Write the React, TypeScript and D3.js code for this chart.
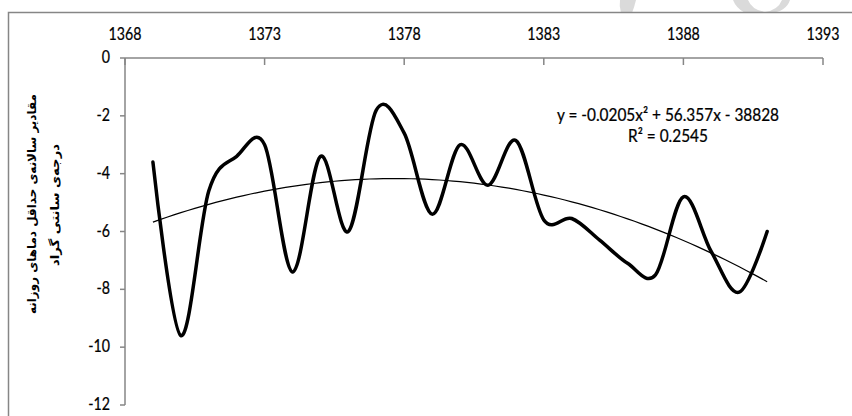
import React from 'react';
import * as d3 from 'd3';

const years = [1369, 1370, 1371, 1372, 1373, 1374, 1375, 1376, 1377, 1378, 1379, 1380, 1381, 1382, 1383, 1384, 1385, 1386, 1387, 1388, 1389, 1390, 1391];
const tmin = [-3.6, -9.6, -4.6, -3.4, -3.0, -7.4, -3.4, -6.0, -1.8, -2.6, -5.4, -3.0, -4.4, -2.85, -5.6, -5.55, -6.3, -7.1, -7.5, -4.8, -6.7, -8.1, -6.0];
const xTicks = [1368, 1373, 1378, 1383, 1388, 1393];
const yTicks = [0, -2, -4, -6, -8, -10, -12];
const titleLines = ['مقادیر سالانه‌ی حداقل دماهای روزانه', 'درجه‌ی سانتی گراد'];
const equationText = 'y = -0.0205x² + 56.357x - 38828';
const r2Text = 'R² = 0.2545';

function fitQuadratic(xs: number[], ys: number[]) {
  const m = d3.mean(xs) as number;
  const t = xs.map((v) => v - m);
  const S = (p: number) => d3.sum(t, (v) => Math.pow(v, p));
  const T = (p: number) => d3.sum(t, (v, i) => Math.pow(v, p) * ys[i]);
  const A = [
    [S(4), S(3), S(2), T(2)],
    [S(3), S(2), S(1), T(1)],
    [S(2), S(1), S(0), T(0)],
  ];
  for (let i = 0; i < 3; i++) {
    for (let k = i + 1; k < 3; k++) {
      const f = A[k][i] / A[i][i];
      for (let j = i; j < 4; j++) A[k][j] -= f * A[i][j];
    }
  }
  const c = [0, 0, 0];
  for (let i = 2; i >= 0; i--) {
    let s = A[i][3];
    for (let j = i + 1; j < 3; j++) s -= A[i][j] * c[j];
    c[i] = s / A[i][i];
  }
  return (x: number) => c[0] * (x - m) * (x - m) + c[1] * (x - m) + c[2];
}

const FONT = 'Lato, "Open Sans", sans-serif';

function NText({ x, y, anchor, size, sx = 0.81, children }: any) {
  return (
    <text
      transform={`translate(${x},${y}) scale(${sx},1)`}
      textAnchor={anchor}
      fontFamily={FONT}
      fontSize={size}
      fill="#000"
      stroke="#000"
      strokeWidth={0.25}
    >
      {children}
    </text>
  );
}

export default function App() {
  const W = 852;
  const H = 416;
  const x = d3.scaleLinear().domain([1368, 1393]).range([125, 823]);
  const y = d3.scaleLinear().domain([0, -12]).range([58, 405]);

  const line = d3
    .line<number>()
    .x((_, i) => x(years[i]))
    .y((d) => y(d))
    .curve(d3.curveCardinal.tension(0));

  const fit = fitQuadratic(years, tmin);
  const trendX = d3.range(years[0], years[years.length - 1] + 0.001, 0.25);
  const trend = d3
    .line<number>()
    .x((d) => x(d))
    .y((d) => y(fit(d)))
    .curve(d3.curveLinear);

  const axisColor = '#868686';

  return (
    <svg width={W} height={H} style={{ position: 'absolute', left: 0, top: 0, background: '#fff' }}>
      <rect x={0} y={0} width={W} height={H} fill="#fff" />
      {/* faint watermark pieces at top */}
      <path d="M620,0 L636,0 Q634,8 632,13 L621,13 Q619,6 620,0 Z" fill="#dadada" />
      <path d="M733,0 L748,0 Q752,10 765,12 Q778,10 782,0 L790,0 Q786,12 770,13 L745,13 Q736,8 733,0 Z" fill="#dadada" />
      {/* chart border */}
      <path d={`M8.5,${H} L8.5,12.5 L${W},12.5`} fill="none" stroke={axisColor} strokeWidth={1.5} />

      {/* top x axis */}
      <line x1={x(1368)} x2={x(1393)} y1={58} y2={58} stroke={axisColor} strokeWidth={1.5} />
      {xTicks.map((t) => (
        <g key={t}>
          <line x1={x(t)} x2={x(t)} y1={58} y2={65} stroke={axisColor} strokeWidth={1.5} />
          <NText x={x(t)} y={40} anchor="middle" size={17.5}>
            {t}
          </NText>
        </g>
      ))}

      {/* y axis */}
      <line x1={125} x2={125} y1={y(0)} y2={y(-12)} stroke={axisColor} strokeWidth={1.5} />
      {yTicks.map((t) => (
        <g key={t}>
          <line x1={120} x2={125} y1={y(t)} y2={y(t)} stroke={axisColor} strokeWidth={1.5} />
          <NText x={110} y={y(t) + 5} anchor="end" size={17.5}>
            {t}
          </NText>
        </g>
      ))}

      {/* y title */}
      <g transform="translate(32,204) rotate(-90)">
        <text
          x={0}
          y={0}
          textAnchor="middle"
          dominantBaseline="central"
          fontFamily='"DejaVu Sans", sans-serif'
          fontWeight="bold"
          fontSize={12}
          direction="rtl"
          textLength={220}
          lengthAdjust="spacingAndGlyphs"
        >
          {titleLines[0]}
        </text>
      </g>
      <g transform="translate(55,205) rotate(-90)">
        <text
          x={0}
          y={0}
          textAnchor="middle"
          dominantBaseline="central"
          fontFamily='"DejaVu Sans", sans-serif'
          fontWeight="bold"
          fontSize={12}
          direction="rtl"
          textLength={122}
          lengthAdjust="spacingAndGlyphs"
        >
          {titleLines[1]}
        </text>
      </g>

      {/* trend line */}
      <path d={trend(trendX) || ''} fill="none" stroke="#000" strokeWidth={1.2} />
      {/* data line */}
      <path d={line(tmin) || ''} fill="none" stroke="#000" strokeWidth={3.5} strokeLinejoin="round" strokeLinecap="round" />

      {/* equation */}
      <NText x={668} y={121} anchor="middle" size={17.5} sx={0.88}>
        {equationText}
      </NText>
      <NText x={668} y={142} anchor="middle" size={17.5} sx={0.88}>
        {r2Text}
      </NText>
    </svg>
  );
}
